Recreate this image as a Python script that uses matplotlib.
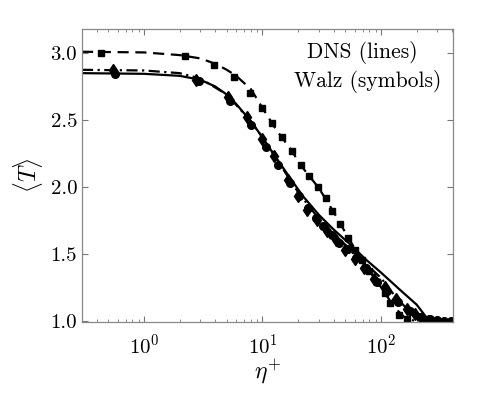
import matplotlib
matplotlib.use("Agg")
import matplotlib.pyplot as plt
from matplotlib.ticker import LogLocator, FixedLocator

plt.rcParams['font.family'] = ['cmr10', 'DejaVu Serif']
plt.rcParams['mathtext.fontset'] = 'cm'
plt.rcParams['axes.formatter.use_mathtext'] = True
plt.rcParams['axes.unicode_minus'] = False

# DNS lines
dns_dash_x = [0.3, 1, 2, 3, 4, 5, 6, 8, 10, 13, 17, 22, 30, 40, 50, 60, 80, 100, 130, 160, 190]
dns_dash_T = [3.01, 3.005, 2.985, 2.96, 2.92, 2.875, 2.83, 2.73, 2.59, 2.43, 2.29, 2.14, 1.99, 1.81, 1.66, 1.54, 1.37, 1.25, 1.10, 1.02, 1.0]

dns_solid_x = [0.3, 1, 2, 3, 4, 5, 6, 8, 10, 13, 17, 22, 30, 40, 55, 75, 100, 145, 200, 230, 255]
dns_solid_T = [2.85, 2.845, 2.83, 2.80, 2.75, 2.69, 2.62, 2.49, 2.37, 2.22, 2.07, 1.93, 1.79, 1.68, 1.57, 1.455, 1.36, 1.23, 1.12, 1.05, 1.0]

dns_dashdot_x = [0.3, 1, 2, 3, 5, 8, 10, 15, 20, 30, 40, 60, 80, 100, 135, 170, 210, 240]
dns_dashdot_T = [2.875, 2.87, 2.85, 2.81, 2.69, 2.49, 2.37, 2.13, 1.96, 1.76, 1.65, 1.50, 1.40, 1.32, 1.17, 1.08, 1.02, 1.0]

# Walz symbols
sq_x = [0.43, 2.2, 3.9, 5.7, 7.85, 9.85, 12.0, 14.6, 17.6, 21, 24.7, 29.2, 34.4, 39, 45, 52.4, 60.3, 69, 80, 93, 108, 120, 142, 166]
sq_T = [3.0, 2.98, 2.91, 2.82, 2.70, 2.59, 2.48, 2.37, 2.27, 2.16, 2.08, 2.0, 1.92, 1.82, 1.72, 1.62, 1.53, 1.45, 1.37, 1.29, 1.21, 1.13, 1.045, 1.015]

ci_x = [0.57, 2.9, 5.3, 7.95, 10.7, 13.6, 17.1, 20.4, 24.4, 28.3, 32.6, 38.4, 44.5, 52.4, 62, 75, 92, 112, 140, 175, 215, 260, 295, 340, 390]
ci_T = [2.84, 2.79, 2.64, 2.46, 2.30, 2.16, 2.03, 1.93, 1.84, 1.77, 1.71, 1.64, 1.58, 1.535, 1.47, 1.39, 1.29, 1.22, 1.14, 1.07, 1.03, 1.01, 1.003, 1.0, 1.0]

di_x = [0.55, 2.75, 5.1, 7.4, 10.0, 12.4, 16.5, 20, 24, 29, 35, 42, 50, 60, 72, 88, 108, 135, 165, 195, 220, 250]
di_T = [2.87, 2.80, 2.67, 2.52, 2.36, 2.23, 2.05, 1.93, 1.83, 1.75, 1.67, 1.60, 1.53, 1.46, 1.39, 1.31, 1.25, 1.16, 1.09, 1.05, 1.02, 1.0]

y_ticks = [1.0, 1.5, 2.0, 2.5, 3.0]

fig = plt.figure(figsize=(5.01, 3.93), dpi=100)
ax = fig.add_axes([0.1637, 0.1807, 0.7403, 0.7455])

ax.plot(dns_dash_x, dns_dash_T, color='black', lw=1.6, ls=(0, (5, 3)))
ax.plot(dns_solid_x, dns_solid_T, color='black', lw=1.6, ls='-')
ax.plot(dns_dashdot_x, dns_dashdot_T, color='black', lw=1.6, ls=(0, (5, 2, 1, 2)))

ax.plot(sq_x, sq_T, 's', color='black', ms=5, ls='none')
ax.plot(ci_x, ci_T, 'o', color='black', ms=5.5, ls='none')
ax.plot(di_x, di_T, 'd', color='black', ms=6, ls='none')

ax.set_xscale('log')
ax.set_xlim(0.3, 405)
ax.set_ylim(0.99, 3.18)
ax.yaxis.set_major_locator(FixedLocator(y_ticks))
ax.set_yticklabels([f"{v:.1f}" for v in y_ticks])
ax.xaxis.set_major_locator(LogLocator(base=10, numticks=10))
ax.xaxis.set_minor_locator(LogLocator(base=10, subs=range(2, 10), numticks=20))

for s in ax.spines.values():
    s.set_color('#888888')
    s.set_linewidth(0.9)
ax.tick_params(which='both', direction='in', top=True, right=True, color='#777777', labelsize=15)
ax.tick_params(which='major', length=4, width=0.8)
ax.tick_params(which='minor', length=2, width=0.6)
ax.tick_params(axis='x', which='major', pad=8)

ax.set_xlabel(r'$\eta^{+}$', fontsize=17, labelpad=0)
ax.set_ylabel(r'$\langle T\rangle$', fontsize=17, labelpad=4)

ax.text(0.755, 0.92, 'DNS (lines)', transform=ax.transAxes, ha='center', va='center', fontsize=15.5)
ax.text(0.77, 0.82, 'Walz (symbols)', transform=ax.transAxes, ha='center', va='center', fontsize=15.5)

fig.savefig('out.png', dpi=100)
